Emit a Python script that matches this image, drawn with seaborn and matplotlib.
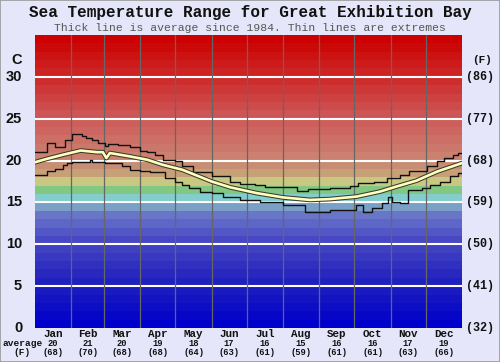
import numpy as np
import pandas as pd
import seaborn as sns
import matplotlib.pyplot as plt
from matplotlib import patheffects
from matplotlib.patches import Rectangle

# data (day of year, deg C)
months = ['Jan', 'Feb', 'Mar', 'Apr', 'May', 'Jun', 'Jul', 'Aug', 'Sep', 'Oct', 'Nov', 'Dec']
month_avg_c = ['20', '21', '20', '19', '18', '17', '16', '15', '16', '16', '17', '19']
month_avg_f = ['(68)', '(70)', '(68)', '(68)', '(64)', '(63)', '(61)', '(59)', '(61)', '(61)', '(63)', '(66)']
month_start = [0, 31, 59, 90, 120, 151, 181, 212, 243, 273, 304, 334, 365]

c_ticks = [0, 5, 10, 15, 20, 25, 30]
f_labels = ['(32)', '(41)', '(50)', '(59)', '(68)', '(77)', '(86)']

avg_days = [0, 10, 24, 39, 53, 58, 61, 64, 81, 96, 109, 126, 151, 167, 190, 212, 235, 252, 275, 295, 309, 326, 344, 365]
avg_vals = [19.8, 20.2, 20.7, 21.2, 21.0, 21.0, 20.3, 20.9, 20.5, 20.1, 19.5, 18.9, 17.5, 16.8, 16.1, 15.6, 15.3, 15.4, 15.7, 16.3, 16.9, 17.6, 18.7, 19.7]

max_days = [0, 10, 17, 26, 32, 40, 44, 49, 54, 60, 62, 71, 81, 90, 96, 103, 109, 120, 126, 135,
            151, 167, 175, 188, 197, 224, 233, 252, 269, 276, 290, 301, 312, 320, 335, 344, 350, 357, 362]
max_vals = [21.0, 22.1, 21.6, 22.5, 23.2, 22.9, 22.7, 22.4, 22.1, 21.7, 22.0, 21.9, 21.6, 21.2, 21.0, 20.7, 20.1, 19.9, 19.3, 18.6,
            18.1, 17.5, 17.2, 17.1, 16.9, 16.4, 16.6, 16.7, 17.0, 17.3, 17.5, 17.9, 18.3, 18.7, 19.3, 19.9, 20.3, 20.7, 20.9]

min_days = [0, 10, 17, 24, 27, 32, 47, 49, 60, 74, 81, 90, 98, 111, 120, 126, 132, 141, 151, 161,
            175, 192, 212, 231, 252, 274, 280, 288, 297, 302, 305, 312, 319, 331, 338, 346, 355, 362]
min_vals = [18.3, 18.7, 19.0, 19.5, 19.7, 19.8, 20.1, 19.8, 19.7, 19.3, 18.9, 18.7, 18.6, 17.9, 17.5, 17.1, 16.7, 16.3, 16.1, 15.7,
            15.3, 15.0, 14.7, 13.9, 14.1, 14.7, 13.9, 14.3, 14.9, 15.6, 15.1, 14.9, 16.5, 16.7, 17.1, 17.5, 18.1, 18.5]

sns.set_style('white')
plt.rcParams['font.family'] = ['Liberation Mono', 'DejaVu Sans Mono']

bg = '#E6E6FA'
fig = plt.figure(figsize=(5, 3.62), dpi=100, facecolor=bg)
ax = fig.add_axes([35/500, 34/362, 427/500, 293/362])

# 1 degree colour bands
anchor_t = [0, 5, 10, 13, 14, 15, 16, 17, 18, 19, 20, 25, 30, 34]
anchor_rgb = np.array([(0, 0, 204), (32, 32, 190), (72, 72, 196), (105, 118, 200), (122, 160, 200),
                       (130, 205, 205), (130, 200, 130), (200, 200, 130), (200, 160, 120), (200, 142, 116),
                       (204, 128, 112), (205, 85, 85), (205, 35, 35), (204, 0, 0)]) / 255.0
for t in range(35):
    col = [np.interp(t, anchor_t, anchor_rgb[:, k]) for k in range(3)]
    ax.axhspan(t, t + 1, color=col, lw=0, zorder=0)

for t in c_ticks[1:]:
    ax.axhline(t, color='white', lw=1.5, zorder=1)
for d in month_start[1:-1]:
    ax.axvline(d, color='#666666', lw=0.9, zorder=1)

df_max = pd.DataFrame({'day': max_days + [365], 'temp': max_vals + [max_vals[-1]]})
df_min = pd.DataFrame({'day': min_days + [365], 'temp': min_vals + [min_vals[-1]]})
df_avg = pd.DataFrame({'day': avg_days, 'temp': avg_vals})

sns.lineplot(data=df_max, x='day', y='temp', drawstyle='steps-post', color='#111111', lw=1.0, ax=ax, zorder=3)
sns.lineplot(data=df_min, x='day', y='temp', drawstyle='steps-post', color='#111111', lw=1.0, ax=ax, zorder=3)
sns.lineplot(data=df_avg, x='day', y='temp', color='#FFFFC0', lw=1.9, ax=ax, zorder=4,
             path_effects=[patheffects.Stroke(linewidth=3.4, foreground='#3a3a2a'), patheffects.Normal()])

ax.set_xlim(0, 365)
ax.set_ylim(0, 35)
ax.set_xticks([])
ax.set_yticks([])
ax.set_xlabel('')
ax.set_ylabel('')
for s in ax.spines.values():
    s.set_visible(False)

# axis labels
for t in c_ticks:
    ax.text(-11, t, str(t), ha='right', va='center', fontsize=10.5, fontweight='bold',
            family='Liberation Sans', color='#111111')
ax.text(-11, 32, 'C', ha='right', va='center', fontsize=10.5, fontweight='bold',
        family='Liberation Sans', color='#111111')
for t, lab in zip(c_ticks, f_labels):
    ax.text(368, t, lab, ha='left', va='center', fontsize=8.5, fontweight='bold', color='#111111')
ax.text(374, 32, '(F)', ha='left', va='center', fontsize=8, fontweight='bold', color='#111111')

for i, m in enumerate(months):
    mid = (month_start[i] + month_start[i + 1]) / 2
    ax.text(mid, -0.72, m, ha='center', va='center', fontsize=7.8, fontweight='bold', color='#111111')
    ax.text(mid, -1.8, month_avg_c[i], ha='center', va='center', fontsize=6.3, fontweight='bold', color='#111111')
    ax.text(mid, -2.93, month_avg_f[i], ha='center', va='center', fontsize=6.3, fontweight='bold', color='#111111')
ax.text(-11, -1.8, 'average', ha='center', va='center', fontsize=6.8, fontweight='bold', color='#111111')
ax.text(-11, -2.93, '(F)', ha='center', va='center', fontsize=6.8, fontweight='bold', color='#111111')

fig.text(0.5, 1 - 13/362, 'Sea Temperature Range for Great Exhibition Bay', ha='center', va='center',
         fontsize=11.5, fontweight='bold', color='#111111')
fig.text(0.5, 1 - 28/362, 'Thick line is average since 1984. Thin lines are extremes', ha='center', va='center',
         fontsize=8.2, color='#555555')

fig.patches.append(Rectangle((0, 0), 1, 1, transform=fig.transFigure, fill=False,
                             edgecolor='#9a9a9a', lw=1.2))

fig.savefig('out.png', dpi=100, facecolor=bg)
